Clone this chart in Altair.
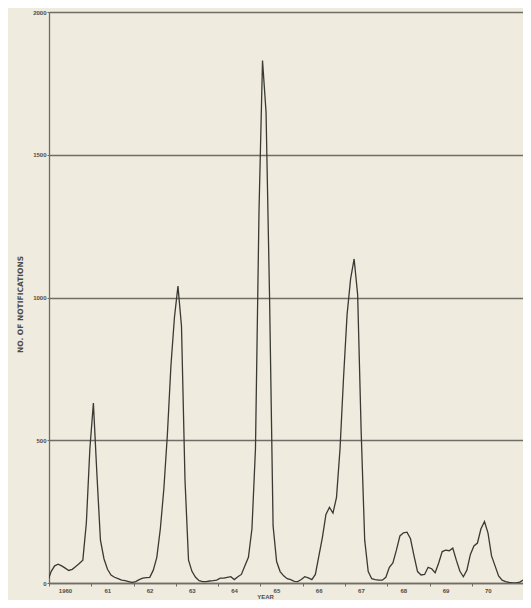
import altair as alt
import pandas as pd

# Monthly notifications, Jan 1960 onwards
counts = [
    5, 40, 60, 66, 60, 52, 44, 48, 58, 68, 80, 210,          # 1960
    470, 630, 380, 150, 85, 48, 28, 20, 15, 10, 8, 5,        # 1961
    2, 5, 12, 17, 19, 20, 45, 90, 190, 330, 520, 760,        # 1962
    930, 1040, 900, 360, 80, 40, 20, 8, 5, 5, 7, 8,          # 1963
    10, 17, 17, 20, 22, 12, 22, 30, 60, 90, 190, 470,        # 1964
    1300, 1830, 1650, 1000, 200, 75, 40, 25, 15, 12, 6, 5,   # 1965
    12, 22, 18, 12, 30, 95, 160, 240, 265, 245, 300, 470,    # 1966
    720, 940, 1065, 1135, 1010, 530, 150, 40, 15, 12, 10, 10,  # 1967
    20, 55, 70, 115, 165, 176, 178, 155, 95, 40, 28, 30,     # 1968
    55, 50, 36, 70, 110, 115, 113, 122, 80, 42, 22, 45,      # 1969
    100, 130, 140, 190, 215, 175, 95, 60, 25, 10, 5, 2,      # 1970
    0, 0, 3, 10, 25, 40,                                     # 1971
]
start_year = 1960
tick_years = list(range(1960, 1971))
y_ticks = [0, 500, 1000, 1500, 2000]

df = pd.DataFrame({
    "t": [start_year + (i - 0.4) / 12 for i in range(len(counts))],
    "n": counts,
})

ink = "#3a3934"
grid = "#6f6d66"
text = "#4d4c46"
bg = "#efebde"

chart = alt.Chart(df).mark_line(color=ink, strokeWidth=1.3, clip=True).encode(
    x=alt.X(
        "t:Q",
        scale=alt.Scale(domain=[1960.0, 1971.4], nice=False, zero=False),
        axis=alt.Axis(
            values=tick_years,
            labelExpr="datum.value == 1960 ? '1960' : substring(toString(datum.value), 2, 4)",
            labelOffset=16,
            labelFlush=False,
            labelOverlap=False,
            labelBound=False,
            labelFontSize=6,
            labelFontWeight="bold",
            labelColor=text,
            labelPadding=1,
            tickSize=3,
            tickColor=grid,
            domainColor=grid,
            domainWidth=1.3,
            grid=False,
            title="YEAR",
            titleFontSize=6,
            titleFontWeight="bold",
            titleColor=text,
            titleBaseline="bottom",
            titleY=16,
            titleX=216,
        ),
    ),
    y=alt.Y(
        "n:Q",
        scale=alt.Scale(domain=[0, 2000], nice=False),
        axis=alt.Axis(
            values=y_ticks,
            format="d",
            labelFontSize=6,
            labelFontWeight="bold",
            labelColor=text,
            labelPadding=1,
            tickSize=2,
            tickColor=grid,
            domainColor=grid,
            domainWidth=1.3,
            grid=True,
            gridColor=grid,
            gridWidth=1.3,
            gridOpacity=1,
            title="NO. OF NOTIFICATIONS",
            titleFont="DejaVu Sans",
            titleFontSize=7.5,
            titleFontWeight="bold",
            titleColor=text,
            titleX=-25,
            titleY=292,
        ),
    ),
).properties(
    width=482,
    height=571,
    autosize=alt.AutoSizeParams(type="none"),
    padding={"left": 41, "top": 4, "right": -8, "bottom": 17},
    background=bg,
).configure_view(stroke=None).configure_axis(
    labelFont="Liberation Sans", titleFont="Liberation Sans"
)

chart.save("out.html", embed_options={"renderer": "svg", "actions": False})
